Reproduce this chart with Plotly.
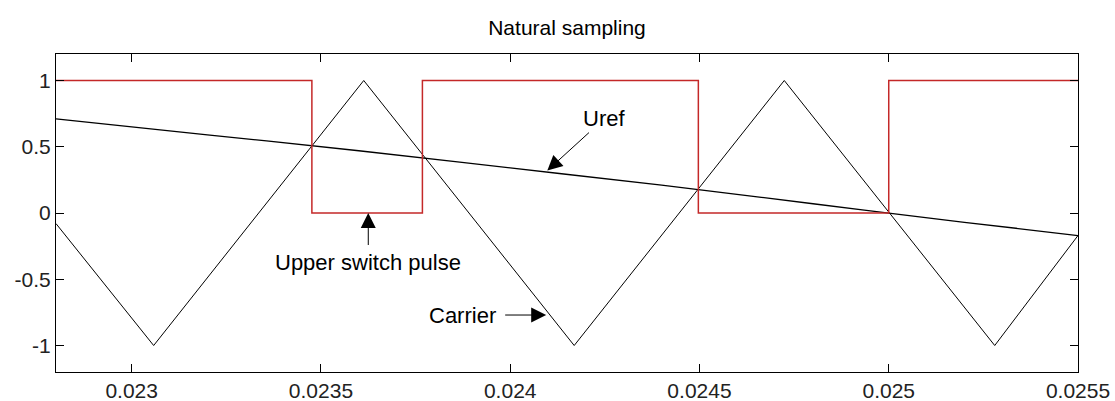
import plotly.graph_objects as go

# Carrier (triangle) vertices
carrier_t = [0.0228, 0.023058, 0.023613, 0.024169, 0.024724, 0.02528, 0.0255]
carrier_v = [-0.08, -1.0, 1.0, -1.0, 1.0, -1.0, -0.17]

# Reference signal Uref
uref_t = [0.0228, 0.0232, 0.0236, 0.0240, 0.0244, 0.0248, 0.0252, 0.0255]
uref_v = [0.71, 0.59, 0.47, 0.34, 0.21, 0.07, -0.07, -0.17]

# Upper switch pulse (step, value held until next switching instant)
pulse_t = [0.0228, 0.023476, 0.023768, 0.024497, 0.0250, 0.0255]
pulse_v = [1, 0, 1, 0, 1, 1]

x_ticks = [0.023, 0.0235, 0.024, 0.0245, 0.025, 0.0255]
x_ticktext = ["0.023", "0.0235", "0.024", "0.0245", "0.025", "0.0255"]
y_ticks = [-1, -0.5, 0, 0.5, 1]
y_ticktext = ["-1", "-0.5", "0", "0.5", "1"]

FONT = "Liberation Sans, Arial, sans-serif"

fig = go.Figure()
fig.add_trace(go.Scatter(x=carrier_t, y=carrier_v, mode="lines",
                         line=dict(color="black", width=1), showlegend=False))
fig.add_trace(go.Scatter(x=uref_t, y=uref_v, mode="lines", line_shape="spline",
                         line=dict(color="black", width=1.3), showlegend=False))
fig.add_trace(go.Scatter(x=pulse_t, y=pulse_v, mode="lines", line_shape="hv",
                         line=dict(color="#c42828", width=1.5), showlegend=False))

ann_font = dict(family=FONT, size=22, color="black")
arrow = dict(showarrow=True, arrowhead=2, arrowsize=3, arrowwidth=1, arrowcolor="black")
fig.add_annotation(x=0.024098, y=0.32, text="Uref", ax=57, ay=-52, font=ann_font, **arrow)
fig.add_annotation(x=0.023625, y=0.0, text="Upper switch pulse", ax=0, ay=49,
                   startstandoff=3, font=ann_font, **arrow)
fig.add_annotation(x=0.024095, y=-0.77, text="Carrier", ax=-84, ay=0,
                   startstandoff=8, font=ann_font, **arrow)

axis_common = dict(showline=True, linecolor="black", linewidth=1, mirror="ticks",
                   ticks="inside", ticklen=8, tickcolor="black", showgrid=False,
                   zeroline=False, automargin=False,
                   tickfont=dict(family=FONT, size=21, color="#222"))

fig.update_xaxes(range=[0.0228, 0.0255], tickmode="array", tickvals=x_ticks,
                 ticktext=x_ticktext, **axis_common)
fig.update_yaxes(range=[-1.2, 1.2], tickmode="array", tickvals=y_ticks,
                 ticktext=y_ticktext, **axis_common)

fig.update_layout(
    width=1115, height=401,
    margin=dict(l=56, r=37, t=54, b=29),
    paper_bgcolor="white", plot_bgcolor="white",
    title=dict(text="Natural sampling", x=0.5, xref="paper", y=0.932, yanchor="middle",
               font=dict(family=FONT, size=21, color="black")),
)

fig.write_html("out.html")
